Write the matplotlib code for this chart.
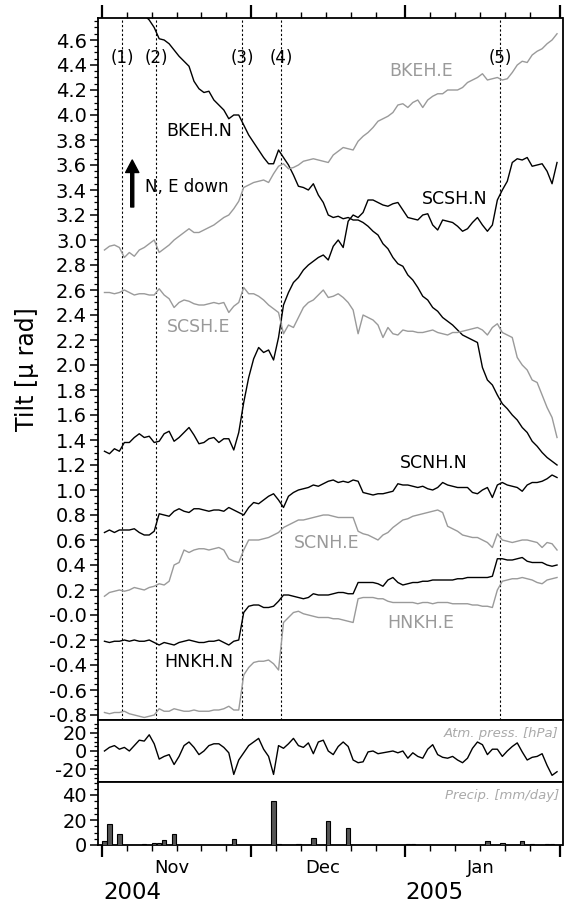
import numpy as np
import matplotlib
matplotlib.use('Agg')
import matplotlib.pyplot as plt
import matplotlib.dates as mdates
from matplotlib.ticker import FixedLocator, MultipleLocator, FuncFormatter, NullFormatter

plt.rcParams['font.family'] = ['DejaVu Sans']

# ---------------- data ----------------
start = np.datetime64('2004-11-01T12:00')
ndays = 92
days = start + np.arange(ndays).astype('timedelta64[D]')

BKEH_N = [4.95, 4.93, 4.91, 4.90, 4.88, 4.86, 4.84, 4.82, 4.80, 4.76,
          4.70, 4.61, 4.60, 4.57, 4.52, 4.47, 4.43, 4.39, 4.27, 4.21,
          4.18, 4.19, 4.12, 4.08, 4.04, 3.97, 4.00, 4.00, 3.92, 3.84,
          3.78, 3.72, 3.66, 3.61, 3.61, 3.72, 3.66, 3.60, 3.52, 3.43,
          3.42, 3.40, 3.45, 3.36, 3.30, 3.20, 3.18, 3.19, 3.17, 3.18,
          3.16, 3.16, 3.14, 3.11, 3.07, 3.04, 2.97, 2.93, 2.86, 2.81,
          2.79, 2.72, 2.68, 2.62, 2.55, 2.52, 2.46, 2.43, 2.38, 2.35,
          2.32, 2.28, 2.24, 2.22, 2.20, 2.18, 1.98, 1.88, 1.84, 1.76,
          1.69, 1.65, 1.60, 1.56, 1.50, 1.46, 1.39, 1.35, 1.30, 1.26,
          1.23, 1.20]
BKEH_E = [2.92, 2.95, 2.96, 2.94, 2.86, 2.90, 2.87, 2.92, 2.94, 2.97,
          3.00, 2.90, 2.93, 2.96, 3.00, 3.03, 3.06, 3.09, 3.06, 3.06,
          3.08, 3.10, 3.12, 3.15, 3.18, 3.20, 3.25, 3.31, 3.42, 3.44,
          3.46, 3.47, 3.48, 3.46, 3.53, 3.59, 3.61, 3.57, 3.58, 3.60,
          3.63, 3.64, 3.65, 3.64, 3.63, 3.62, 3.68, 3.71, 3.74, 3.73,
          3.72, 3.79, 3.83, 3.86, 3.90, 3.95, 3.97, 3.99, 4.02, 4.08,
          4.09, 4.06, 4.10, 4.12, 4.06, 4.12, 4.15, 4.17, 4.17, 4.20,
          4.20, 4.20, 4.22, 4.26, 4.28, 4.30, 4.33, 4.28, 4.29, 4.30,
          4.28, 4.29, 4.34, 4.40, 4.43, 4.42, 4.48, 4.51, 4.53, 4.57,
          4.60, 4.65]
SCSH_N = [1.31, 1.29, 1.33, 1.31, 1.38, 1.38, 1.42, 1.45, 1.42, 1.43,
          1.38, 1.39, 1.45, 1.47, 1.39, 1.42, 1.46, 1.50, 1.44, 1.37,
          1.38, 1.41, 1.42, 1.38, 1.41, 1.41, 1.32, 1.46, 1.70, 1.90,
          2.05, 2.14, 2.10, 2.12, 2.04, 2.22, 2.48, 2.58, 2.66, 2.70,
          2.76, 2.80, 2.83, 2.86, 2.88, 2.84, 2.95, 3.00, 2.94, 3.15,
          3.20, 3.18, 3.22, 3.32, 3.32, 3.30, 3.28, 3.27, 3.29, 3.30,
          3.24, 3.18, 3.17, 3.16, 3.20, 3.21, 3.12, 3.08, 3.16, 3.15,
          3.14, 3.11, 3.07, 3.09, 3.14, 3.18, 3.12, 3.07, 3.12, 3.32,
          3.40, 3.47, 3.62, 3.65, 3.64, 3.66, 3.59, 3.60, 3.61, 3.55,
          3.45, 3.62]
SCSH_E = [2.58, 2.58, 2.57, 2.58, 2.60, 2.58, 2.56, 2.57, 2.57, 2.56,
          2.56, 2.61, 2.56, 2.53, 2.46, 2.50, 2.52, 2.51, 2.49, 2.48,
          2.48, 2.49, 2.50, 2.49, 2.50, 2.42, 2.47, 2.50, 2.62, 2.57,
          2.57, 2.55, 2.52, 2.48, 2.45, 2.42, 2.25, 2.32, 2.30, 2.38,
          2.46, 2.50, 2.52, 2.56, 2.60, 2.54, 2.55, 2.57, 2.54, 2.50,
          2.44, 2.25, 2.40, 2.38, 2.36, 2.32, 2.22, 2.30, 2.25, 2.24,
          2.28, 2.27, 2.27, 2.26, 2.26, 2.27, 2.28, 2.26, 2.25, 2.24,
          2.26, 2.26, 2.27, 2.28, 2.29, 2.30, 2.28, 2.24, 2.30, 2.33,
          2.26, 2.24, 2.22, 2.06, 2.00, 1.96, 1.88, 1.86, 1.76, 1.66,
          1.58, 1.42]
SCNH_N = [0.66, 0.68, 0.66, 0.68, 0.68, 0.68, 0.69, 0.66, 0.64, 0.64,
          0.67, 0.81, 0.80, 0.79, 0.83, 0.85, 0.83, 0.82, 0.85, 0.85,
          0.84, 0.83, 0.84, 0.84, 0.83, 0.86, 0.84, 0.82, 0.80, 0.86,
          0.90, 0.89, 0.92, 0.95, 0.97, 0.92, 0.86, 0.95, 0.98, 1.00,
          1.01, 1.02, 1.04, 1.03, 1.05, 1.07, 1.08, 1.06, 1.07, 1.06,
          1.08, 1.07, 0.98, 0.97, 0.96, 0.97, 0.97, 0.98, 0.99, 1.05,
          1.04, 1.04, 1.03, 1.02, 1.03, 1.01, 1.00, 1.02, 1.06, 1.04,
          1.03, 1.02, 1.02, 1.02, 0.98, 0.97, 1.00, 1.02, 0.94, 1.04,
          1.06, 1.04, 1.03, 1.02, 0.99, 1.04, 1.06, 1.06, 1.07, 1.09,
          1.12, 1.10]
SCNH_E = [0.15, 0.18, 0.19, 0.20, 0.19, 0.20, 0.22, 0.21, 0.20, 0.22,
          0.23, 0.25, 0.24, 0.27, 0.40, 0.42, 0.52, 0.50, 0.52, 0.53,
          0.53, 0.52, 0.53, 0.54, 0.52, 0.45, 0.43, 0.42, 0.52, 0.60,
          0.60, 0.60, 0.61, 0.62, 0.64, 0.66, 0.70, 0.72, 0.74, 0.76,
          0.76, 0.77, 0.78, 0.79, 0.80, 0.80, 0.79, 0.78, 0.78, 0.78,
          0.78, 0.67, 0.65, 0.64, 0.62, 0.60, 0.64, 0.66, 0.70, 0.73,
          0.76, 0.77, 0.79, 0.80, 0.81, 0.82, 0.83, 0.84, 0.82, 0.71,
          0.69, 0.67, 0.64, 0.63, 0.62, 0.62, 0.60, 0.58, 0.54, 0.65,
          0.60, 0.59, 0.58, 0.59, 0.60, 0.60, 0.59, 0.58, 0.54, 0.58,
          0.57, 0.52]
HNKH_N = [-0.21, -0.22, -0.21, -0.21, -0.20, -0.21, -0.20, -0.21, -0.21, -0.20,
          -0.22, -0.24, -0.22, -0.23, -0.24, -0.22, -0.21, -0.20, -0.21, -0.22,
          -0.22, -0.21, -0.21, -0.20, -0.22, -0.24, -0.21, -0.20, 0.02, 0.07,
          0.08, 0.08, 0.06, 0.06, 0.07, 0.11, 0.16, 0.16, 0.15, 0.14,
          0.13, 0.14, 0.17, 0.16, 0.16, 0.16, 0.17, 0.18, 0.18, 0.17,
          0.17, 0.26, 0.26, 0.26, 0.26, 0.25, 0.23, 0.28, 0.30, 0.26,
          0.24, 0.25, 0.26, 0.26, 0.27, 0.27, 0.28, 0.28, 0.28, 0.28,
          0.28, 0.29, 0.29, 0.30, 0.30, 0.30, 0.30, 0.30, 0.31, 0.45,
          0.45, 0.44, 0.44, 0.45, 0.46, 0.43, 0.42, 0.42, 0.42, 0.40,
          0.39, 0.40]
HNKH_E = [-0.78, -0.79, -0.78, -0.78, -0.77, -0.79, -0.80, -0.81, -0.82, -0.81,
          -0.80, -0.75, -0.77, -0.77, -0.75, -0.76, -0.77, -0.77, -0.76, -0.77,
          -0.77, -0.77, -0.76, -0.76, -0.75, -0.73, -0.76, -0.76, -0.48, -0.42,
          -0.38, -0.37, -0.37, -0.36, -0.39, -0.44, -0.06, -0.02, 0.02, 0.03,
          0.01, 0.00, -0.01, -0.02, -0.02, -0.02, -0.03, -0.03, -0.04, -0.05,
          -0.06, 0.13, 0.14, 0.14, 0.14, 0.13, 0.13, 0.11, 0.10, 0.10,
          0.10, 0.10, 0.10, 0.09, 0.10, 0.10, 0.09, 0.10, 0.10, 0.10,
          0.09, 0.09, 0.09, 0.09, 0.08, 0.08, 0.07, 0.07, 0.06, 0.20,
          0.27, 0.28, 0.29, 0.29, 0.30, 0.29, 0.28, 0.26, 0.25, 0.28,
          0.29, 0.30]
pressure = [0, 4, 6, 2, 4, 0, 6, 12, 11, 18,
            8, -9, -6, -4, -15, -6, 6, 10, 4, -4,
            0, 6, 8, 8, 4, -2, -26, -10, -2, 6,
            10, 14, 2, -6, -26, 6, 3, 8, 14, 6,
            4, 9, -3, 10, 12, 0, -4, 5, 10, 5,
            -10, -13, -12, -1, 0, -3, -2, -1, 0, -2,
            0, -8, -2, -6, -8, 2, 7, -4, -7, -8,
            -6, -10, -13, -8, 3, 10, 7, -4, 2, 2,
            -6, 0, 5, 9, -1, -10, -7, -6, -3, -16,
            -27, -23]
precip = [3, 17, 0, 8.5, 0, 0, 0, 0, 0.5, 0,
          2, 2, 4, 0, 8.5, 0, 0, 0, 0, 0,
          0, 0, 0, 0, 0, 0, 4.5, 0, 0, 0,
          0, 0, 0, 0, 35, 1, 0, 0, 0, 0.5,
          0, 0, 6, 0, 0, 19, 0, 0, 0, 14,
          0, 0, 0, 0, 0, 0, 0, 0, 0, 0,
          0, 0.5, 0.5, 0, 0, 0, 0, 0, 0, 0,
          0, 0, 0, 0, 0, 0, 0, 3.5, 0, 0,
          2, 0, 0, 0, 3, 0, 1, 0, 0, 0.5,
          0.5, 0]

series_names = ['BKEH.N', 'BKEH.E', 'SCSH.N', 'SCSH.E', 'SCNH.N', 'SCNH.E', 'HNKH.N', 'HNKH.E']
series_vals = [BKEH_N, BKEH_E, SCSH_N, SCSH_E, SCNH_N, SCNH_E, HNKH_N, HNKH_E]

events = ['2004-11-05T00:30', '2004-11-11T21:00', '2004-11-29T04:00',
          '2004-12-07T02:00', '2005-01-20T00:00']
event_labels = ['(1)', '(2)', '(3)', '(4)', '(5)']

# label anchor (date, value)
label_pos = {'BKEH.N': ('2004-11-20T13:00', 3.87), 'BKEH.E': ('2005-01-04T04:00', 4.35),
             'SCSH.N': ('2005-01-11T00:00', 3.33), 'SCSH.E': ('2004-11-20T08:00', 2.30),
             'SCNH.N': ('2005-01-06T19:00', 1.22), 'SCNH.E': ('2004-12-16T02:00', 0.576),
             'HNKH.N': ('2004-11-20T13:00', -0.376), 'HNKH.E': ('2005-01-04T04:00', -0.064)}

month_labels = ['Nov', 'Dec', 'Jan']
month_label_dates = ['2004-11-15T03:00', '2004-12-15T07:00', '2005-01-16T02:00']
year_labels = ['2004', '2005']
year_label_dates = ['2004-11-01T06:00', '2005-01-01T00:00']

# ---------------- plot ----------------
def dn(s):
    return mdates.date2num(np.datetime64(s))

x = mdates.date2num(days)
xl = (dn('2004-11-01') - 0.8, dn('2005-02-01') + 0.6)

BLACK = 'black'
GRAY = '#9a9a9a'

fig = plt.figure(figsize=(5.65, 9.07), dpi=100)
L, W = 98 / 565, 464.5 / 565
ax1 = fig.add_axes([L, 1 - 720 / 907, W, 702 / 907])
ax2 = fig.add_axes([L, 1 - 782 / 907, W, 62 / 907])
ax3 = fig.add_axes([L, 1 - 845 / 907, W, 63 / 907])

for nm, vals in zip(series_names, series_vals):
    col = BLACK if nm.endswith('.N') else GRAY
    ax1.plot(x, vals, color=col, lw=1.0, zorder=3)
    lx, ly = label_pos[nm]
    ax1.text(dn(lx), ly, nm, color=col, fontsize=12.5, ha='center', va='center', zorder=4)

for ev, lab in zip(events, event_labels):
    ax1.axvline(dn(ev), color='black', lw=0.8, ls=(0, (2, 2)), zorder=2)
    ax1.text(dn(ev), 4.456, lab, fontsize=12, ha='center', va='center')

xa = dn('2004-11-07T02:00')
ax1.annotate('', xy=(xa, 3.64), xytext=(xa, 3.264),
             arrowprops=dict(facecolor='black', edgecolor='black', width=2.2,
                             headwidth=9.5, headlength=9, shrink=0))
ax1.text(dn('2004-11-09T16:00'), 3.42, 'N, E down', fontsize=12, ha='left', va='center')

ax1.set_ylim(-0.84, 4.776)
ax1.yaxis.set_major_locator(FixedLocator(np.round(np.arange(-0.8, 4.61, 0.2), 2)))
ax1.yaxis.set_minor_locator(MultipleLocator(0.05))
ax1.yaxis.set_major_formatter(FuncFormatter(lambda v, p: '-0.0' if abs(v) < 1e-9 else f'{v:.1f}'))

ax2.plot(x, pressure, color='black', lw=1.0)
ax2.set_ylim(-34.4, 34.4)
ax2.yaxis.set_major_locator(FixedLocator([-20, 0, 20]))
ax2.yaxis.set_minor_locator(MultipleLocator(5))
ax2.yaxis.set_major_formatter(FuncFormatter(lambda v, p: f'{v:.0f}'))
ax2.text(0.992, 0.78, 'Atm. press. [hPa]', transform=ax2.transAxes, ha='right', va='center',
         fontsize=9.5, style='italic', color='#aaaaaa')

ax3.bar(x, precip, width=0.9, color='#555555', edgecolor='black', lw=0.8, zorder=3)
ax3.set_ylim(0, 50.4)
ax3.yaxis.set_major_locator(FixedLocator([0, 20, 40]))
ax3.yaxis.set_minor_locator(MultipleLocator(5))
ax3.text(0.992, 0.79, 'Precip. [mm/day]', transform=ax3.transAxes, ha='right', va='center',
         fontsize=9.5, style='italic', color='#aaaaaa')

major_dates = [dn(s) for s in ['2004-11-01', '2004-12-01', '2005-01-01', '2005-02-01']]
minor_dates = []
for ym in ['2004-11', '2004-12', '2005-01']:
    for d in [6, 11, 16, 21, 26]:
        minor_dates.append(dn(f'{ym}-{d:02d}'))

for ax in (ax1, ax2, ax3):
    ax.set_xlim(*xl)
    for sp in ax.spines.values():
        sp.set_linewidth(1.3)
    ax.tick_params(axis='y', which='major', direction='out', length=6, width=1.1,
                   labelsize=14, pad=2)
    ax.tick_params(axis='y', which='minor', direction='out', length=3, width=0.9)

ax1.xaxis.set_major_locator(FixedLocator(major_dates))
ax1.xaxis.set_minor_locator(FixedLocator(minor_dates))
ax1.xaxis.set_ticks_position('top')
ax1.tick_params(axis='x', which='major', direction='out', length=9.5, width=1.6,
                labeltop=False, labelbottom=False)
ax1.tick_params(axis='x', which='minor', direction='out', length=4, width=1.0)
ax1.xaxis.set_major_formatter(NullFormatter())

ax2.set_xticks([])

ax3.xaxis.set_major_locator(FixedLocator(major_dates))
ax3.xaxis.set_minor_locator(FixedLocator(minor_dates))
ax3.tick_params(axis='x', which='major', direction='out', length=8.5, width=1.6,
                labelbottom=False)
ax3.tick_params(axis='x', which='minor', direction='out', length=4, width=1.0)

btr = ax3.get_xaxis_transform()
for lab, d in zip(month_labels, month_label_dates):
    ax3.text(dn(d), 1 - (868 - 782) / 63, lab, transform=btr, ha='center', va='center',
             fontsize=13)
for lab, d in zip(year_labels, year_label_dates):
    ax3.text(dn(d), 1 - (893 - 782) / 63, lab, transform=btr, ha='left', va='center',
             fontsize=16.5)

fig.text(27 / 565, 1 - 369 / 907, 'Tilt [\u03bc rad]', rotation=90, ha='center', va='center',
         fontsize=17)

fig.savefig('out.png', dpi=100)
